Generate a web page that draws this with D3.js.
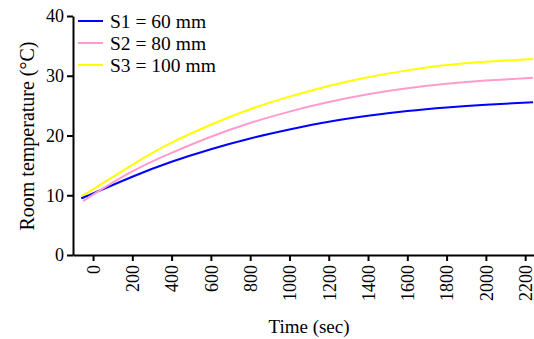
<!DOCTYPE html>
<html><head><meta charset="utf-8">
<script src="https://cdn.jsdelivr.net/npm/d3@7"></script>
<style>body{margin:0;background:#fff}svg{display:block}</style>
</head><body>
<svg id="c" width="534" height="339"></svg>
<script>
const times = [-60, 0, 200, 400, 600, 800, 1000, 1200, 1400, 1600, 1800, 2000, 2240];
const s1 = [9.5, 10.3, 13.1, 15.6, 17.7, 19.5, 21.0, 22.3, 23.3, 24.1, 24.7, 25.15, 25.55];
const s2Times = [-50, 0, 200, 400, 600, 800, 1000, 1200, 1400, 1600, 1800, 2000, 2240];
const s2 = [9.0, 10.1, 14.0, 17.1, 19.8, 22.1, 24.0, 25.6, 26.9, 27.9, 28.65, 29.2, 29.65];
const s3 = [9.9, 11.0, 15.1, 18.8, 21.8, 24.4, 26.5, 28.3, 29.75, 30.9, 31.8, 32.35, 32.8];
const seriesNames = ["S1 = 60 mm", "S2 = 80 mm", "S3 = 100 mm"];
const colors = ["#0000ff", "#ff9ccc", "#ffff00"];
const xTicks = [0,200,400,600,800,1000,1200,1400,1600,1800,2000,2200];
const yTicks = [0,10,20,30,40];

const svg = d3.select("#c");
const font = "'Liberation Serif','Times New Roman',serif";
const x = d3.scaleLinear().domain([-102, 2245]).range([73, 534]);
const y = d3.scaleLinear().domain([0, 40]).range([255, 16]);

const series = [
  times.map((t,i)=>[t,s1[i]]),
  s2Times.map((t,i)=>[t,s2[i]]),
  times.map((t,i)=>[t,s3[i]])
];
const line = d3.line().x(d=>x(d[0])).y(d=>y(d[1])).curve(d3.curveNatural);
svg.append("g").selectAll("path").data(series).join("path")
  .attr("d", line).attr("fill","none")
  .attr("stroke",(d,i)=>colors[i]).attr("stroke-width",2);

const xa = svg.append("g").attr("transform","translate(0,255)")
  .call(d3.axisBottom(x).tickValues(xTicks).tickFormat(d3.format("d")).tickSize(6).tickSizeOuter(0));
xa.selectAll("text").attr("transform","rotate(-90)").attr("text-anchor","end")
  .attr("x",-10).attr("y",0).attr("dy","0.35em");
const ya = svg.append("g").attr("transform","translate(73,0)")
  .call(d3.axisLeft(y).tickValues(yTicks).tickSize(6).tickSizeOuter(0).tickPadding(3));
[xa, ya].forEach(a=>{
  a.select(".domain").attr("stroke","#000").attr("stroke-width",2);
  a.selectAll(".tick line").attr("stroke","#000").attr("stroke-width",2);
  a.selectAll("text").attr("font-family",font).attr("font-size",18).attr("fill","#000");
});

svg.append("text").attr("x",309).attr("y",333).attr("text-anchor","middle")
  .attr("font-family",font).attr("font-size",19).text("Time (sec)");
svg.append("text").attr("transform","translate(34,136) rotate(-90)").attr("text-anchor","middle")
  .attr("font-family",font).attr("font-size",20).text("Room temperature (°C)");

const lg = svg.append("g");
seriesNames.forEach((n,i)=>{
  const yy = 21 + i*22;
  lg.append("line").attr("x1",78).attr("x2",103).attr("y1",yy).attr("y2",yy)
    .attr("stroke",colors[i]).attr("stroke-width",2);
  lg.append("text").attr("x",110).attr("y",yy).attr("dy","0.35em")
    .attr("font-family",font).attr("font-size",19.5).text(n);
});
</script>
</body></html>
